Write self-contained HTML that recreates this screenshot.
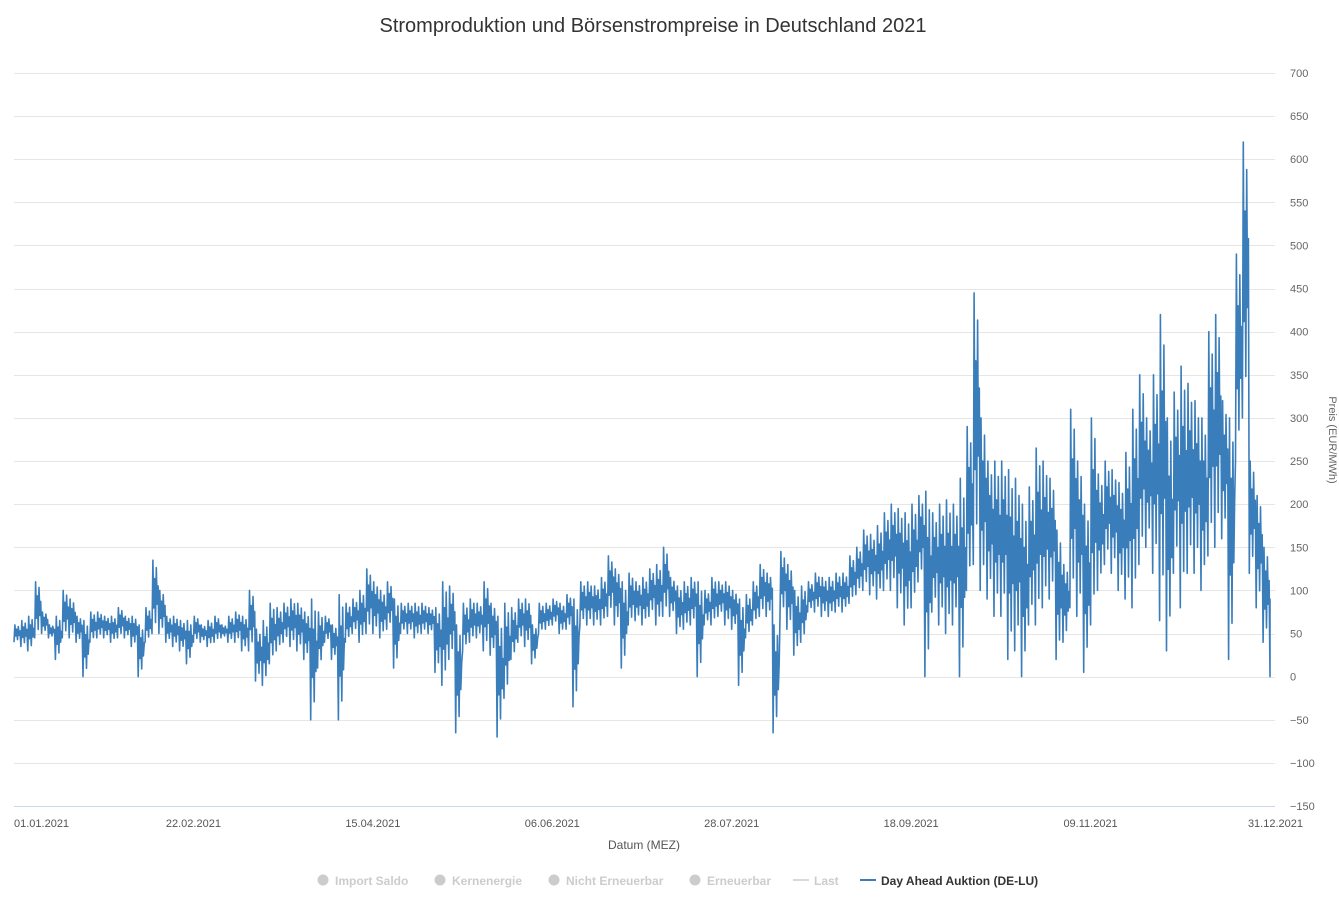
<!DOCTYPE html>
<html><head><meta charset="utf-8"><style>
body{margin:0;background:#fff;font-family:"Liberation Sans",sans-serif}
svg{display:block}
</style></head><body>
<svg id="chart" width="1339" height="902">
<text x="653" y="32" text-anchor="middle" font-size="20" fill="#333">Stromproduktion und Börsenstrompreise in Deutschland 2021</text>
<g id="grid"></g>
<g id="ylabels"></g>
<g id="xlabels"></g>
<line x1="14" y1="806.5" x2="1275" y2="806.5" stroke="#ccd6eb"/>
<path id="series" fill="none" stroke="#3a7dbb" stroke-width="1.6" stroke-linejoin="round"/>
<text x="644" y="849" text-anchor="middle" font-size="12" fill="#555">Datum (MEZ)</text>
<text transform="translate(1329,440) rotate(90)" text-anchor="middle" font-size="11" fill="#666">Preis (EUR/MWh)</text>
<g font-size="12" font-weight="bold">
<g><circle cx="323" cy="880" r="5.5" fill="#ccc"/><text x="335" y="885" fill="#ccc">Import Saldo</text></g>
<g><circle cx="440" cy="880" r="5.5" fill="#ccc"/><text x="452" y="885" fill="#ccc">Kernenergie</text></g>
<g><circle cx="554" cy="880" r="5.5" fill="#ccc"/><text x="566" y="885" fill="#ccc">Nicht Erneuerbar</text></g>
<g><circle cx="695" cy="880" r="5.5" fill="#ccc"/><text x="707" y="885" fill="#ccc">Erneuerbar</text></g>
<g><line x1="793" y1="880" x2="809" y2="880" stroke="#ccc" stroke-width="1.5"/><text x="814" y="885" fill="#ccc">Last</text></g>
<g><line x1="860" y1="880" x2="876" y2="880" stroke="#3b7dbb" stroke-width="2"/><text x="881" y="885" fill="#333">Day Ahead Auktion (DE-LU)</text></g>
</g>
</svg>
<script>
// 2-day bins: high and low price (EUR/MWh)
const highs=[60,65,70,110,75,60,70,
100,90,70,65,75,75,70,70,80,70,70,60,
80,135,100,70,70,65,65,70,60,65,70,60,70,75,70,100,
55,65,85,80,85,90,
85,75,90,75,70,60,95,85,
90,100,125,110,100,110,90,85,85,85,85,80,80,110,
105,60,85,90,85,110,85,70,85,
80,90,90,60,85,85,90,85,95,90,110,
110,105,115,140,125,110,120,110,115,125,130,150,115,105,110,115,110,100,
115,110,110,100,90,95,110,130,120,60,145,130,100,105,110,120,115,115,120,120,
140,150,170,165,175,190,200,195,190,200,210,215,190,200,205,
200,230,290,445,300,250,250,
250,240,230,200,220,265,250,230,
170,130,310,250,200,300,235,250,240,225,
260,310,350,300,350,420,300,330,360,340,
320,300,400,420,320,300,490,620,
250,210,150,90];
const lows=[40,35,30,45,50,45,20,
45,45,40,0,40,45,45,40,45,45,35,0,
40,50,50,40,35,30,15,40,40,35,40,45,40,40,30,30,
-5,-10,15,30,40,35,
30,20,-50,10,40,20,-50,40,
50,40,50,50,45,55,10,50,50,45,50,50,5,-10,
20,-65,30,40,45,30,25,-70,-25,
20,40,35,15,50,55,60,50,55,-35,60,
60,60,60,70,60,10,60,65,60,70,60,70,70,50,55,60,0,60,
60,70,60,55,-10,45,60,70,70,-65,70,55,25,40,75,75,70,70,75,75,
85,95,100,95,90,100,100,80,60,80,110,0,75,60,50,
60,0,100,130,100,90,70,
70,20,30,0,60,60,80,90,
20,40,80,70,5,60,100,130,120,100,
90,80,130,150,120,65,30,120,80,120,
120,100,140,150,160,20,250,300,
120,80,40,0];
const yTicks=[-150,-100,-50,0,50,100,150,200,250,300,350,400,450,500,550,600,650,700];
const xTickDays=[0,52,104,156,208,260,312,364];
const xTickLabels=["01.01.2021","22.02.2021","15.04.2021","06.06.2021","28.07.2021","18.09.2021","09.11.2021","31.12.2021"];
const NS="http://www.w3.org/2000/svg";
const y=v=>806-(v+150)*(733/850);
const x=d=>14+Math.min(d,364)*(1256/364);
const grid=document.getElementById('grid'),yl=document.getElementById('ylabels'),xl=document.getElementById('xlabels');
yTicks.forEach(t=>{
 if(t>-150){const l=document.createElementNS(NS,'line');
 l.setAttribute('x1',14);l.setAttribute('x2',1275);l.setAttribute('y1',Math.round(y(t))+0.5);l.setAttribute('y2',Math.round(y(t))+0.5);l.setAttribute('stroke','#e6e6e6');
 
 
 grid.appendChild(l);}
 const tx=document.createElementNS(NS,'text');
 tx.setAttribute('x',1290);tx.setAttribute('y',y(t)+4);tx.setAttribute('font-size','11');tx.setAttribute('fill','#666');
 tx.textContent=t<0?'\u2212'+(-t):String(t);
 
 
 yl.appendChild(tx);
});
xTickDays.forEach((d,i)=>{
 const tx=document.createElementNS(NS,'text');
 let cx=x(d),anchor='middle';
 if(i===0){cx=14;anchor='start';}
 if(i===xTickDays.length-1){cx=1303;anchor='end';}
 tx.setAttribute('x',cx);tx.setAttribute('y',827);tx.setAttribute('font-size','11');tx.setAttribute('fill','#555');tx.setAttribute('text-anchor',anchor);
 tx.textContent=xTickLabels[i];
 
 
 xl.appendChild(tx);
});
// intra-bin shape (fractions between low and high), a fixed daily-cycle pattern
const shape=[0,1,0.35,0.75,0.15,0.9,0.4,0.65];
let d='';
highs.forEach((h,i)=>{
 const lo=lows[i];
 shape.forEach((f,k)=>{
  const dd=i*2+k*(2/shape.length);
  d+=(i||k?'L':'M')+x(dd).toFixed(1)+','+y(lo+(h-lo)*f).toFixed(1);
 });
});
document.getElementById('series').setAttribute('d',d);
</script>
</body></html>
